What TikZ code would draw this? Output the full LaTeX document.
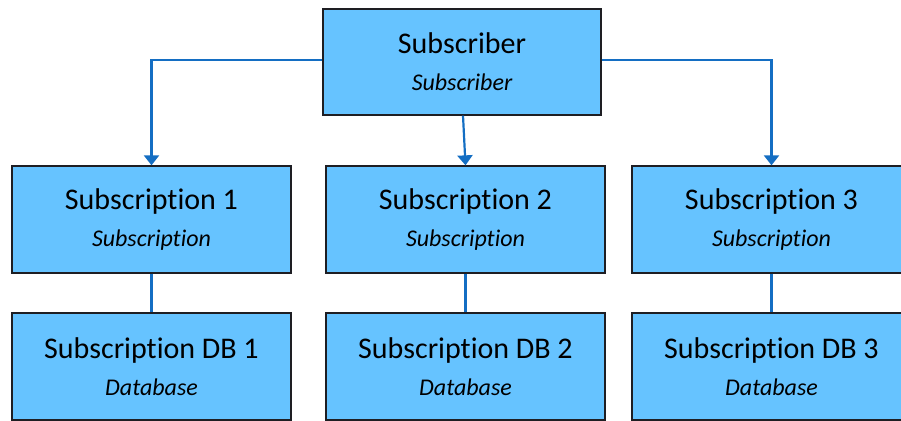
\documentclass[tikz,border=0pt]{standalone}
\usepackage{fontspec}
\setmainfont{Carlito}[Ligatures=NoCommon]
\usetikzlibrary{arrows.meta}
\definecolor{boxfill}{RGB}{102,195,255}
\definecolor{boxline}{RGB}{30,30,35}
\definecolor{linkblue}{RGB}{20,110,195}
\tikzset{
  entity/.style={draw=boxline, line width=1.3pt, fill=boxfill, minimum width=279pt, minimum height=107pt,
    inner sep=0pt, align=center, font=\fontsize{30}{37}\selectfont},
  link/.style={draw=linkblue, line width=2.2pt},
  arrowlink/.style={link, -{Triangle[width=15pt,length=10pt]}},
}
\newcommand{\subt}[1]{{\fontsize{24}{37}\selectfont\itshape #1}}
\begin{document}
\begin{tikzpicture}[x=1pt,y=-1pt]
\useasboundingbox (0,0) rectangle (901,420);
\clip (0,0) rectangle (901,420);
\node[entity, minimum width=278pt, minimum height=106pt] (top) at (462,62) {Subscriber\\\subt{Subscriber}};
\node[entity] (s1) at (151.5,219.5) {Subscription 1\\\subt{Subscription}};
\node[entity] (s2) at (465.5,219.5) {Subscription 2\\\subt{Subscription}};
\node[entity] (s3) at (771.5,219.5) {Subscription 3\\\subt{Subscription}};
\node[entity] (d1) at (151.5,366.5) {Subscription DB 1\\\subt{Database}};
\node[entity] (d2) at (465.5,366.5) {Subscription DB 2\\\subt{Database}};
\node[entity] (d3) at (771.5,366.5) {Subscription DB 3\\\subt{Database}};
\draw[arrowlink] (top.west |- 0,60) -| (s1.north);
\draw[arrowlink] (top.east |- 0,60) -| (s3.north);
\draw[arrowlink] ([xshift=1pt]top.south) -- (s2.north);
\draw[link] (s1.south) -- (d1.north);
\draw[link] (s2.south) -- (d2.north);
\draw[link] (s3.south) -- (d3.north);
\end{tikzpicture}
\end{document}
